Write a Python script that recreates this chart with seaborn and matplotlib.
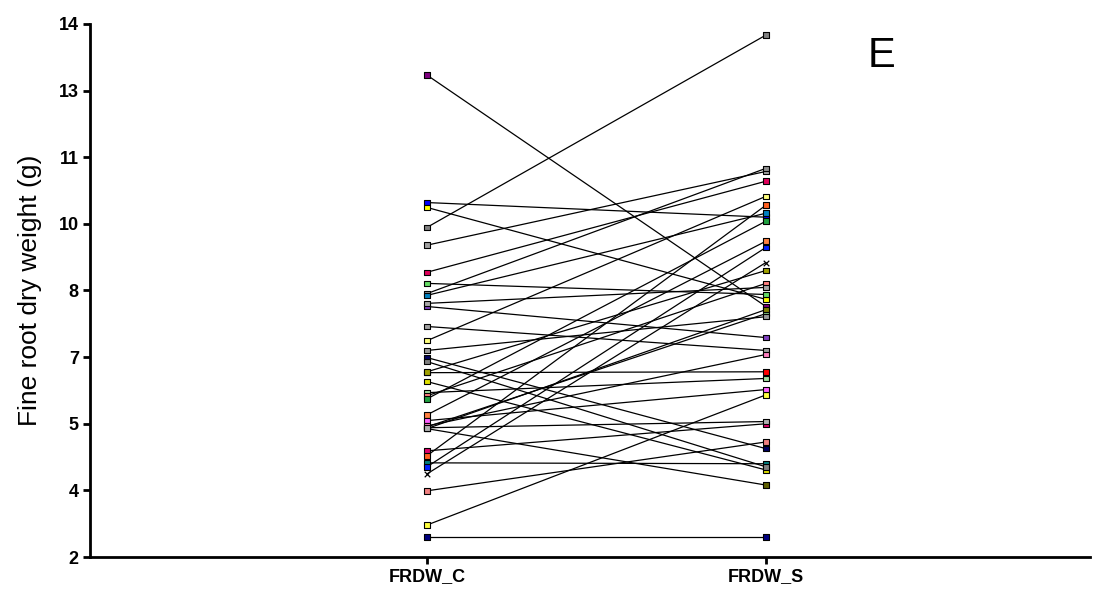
import numpy as np
import pandas as pd
import matplotlib
matplotlib.use("Agg")
import matplotlib.pyplot as plt
import seaborn as sns

# ---------------------------------------------
# Data: fine root dry weight, paired per plant
# ---------------------------------------------
conditions = ["FRDW_C", "FRDW_S"]

frdw_c = [12.85, 9.42, 9.98, 9.87, 9.02, 7.93, 8.41, 8.16, 7.89, 7.64,
          7.19, 6.15, 4.12, 3.49, 2.72, 2.45, 5.95, 4.39, 4.28, 4.03,
          5.20, 5.07, 5.70, 5.63, 5.56, 4.93, 4.89, 3.87, 6.87, 6.17,
          6.49, 6.40, 7.71, 6.65, 4.89, 4.95, 4.91]

frdw_s = [7.64, 13.75, 9.65, 7.80, 10.68, 10.75, 10.46, 7.91, 9.74, 6.94,
          6.65, 6.17, 4.10, 4.59, 5.65, 2.45, 3.96, 5.00, 9.92, 8.97,
          9.11, 5.77, 6.02, 8.16, 9.56, 7.48, 3.62, 8.63, 10.12, 8.45,
          4.44, 4.03, 8.07, 7.41, 7.57, 6.56, 5.05]

plant_colors = ["#800080", "#808080", "#0000ff", "#ffff00", "#a0a0a0",
                "#909090", "#e0005a", "#66dd66", "#0080c0", "#8040c0",
                "#a0a0a0", "#ff0000", "#008080", "#f08080", "#ffff40",
                "#000080", "#e0e000", "#e0006a", "#ff6020", "#0020ff",
                "#ff8040", "#ff60ff", "#a0e0a0", "#ff8080", "#20a040",
                "#80c080", "#606000", "#000000", "#ffff80", "#a0a000",
                "#000060", "#808080", "#a8a8a8", "#989898", "#808000",
                "#ff80c0", "#b0b0b0"]

cross_plant = 27   # this plant is drawn with an "x" marker

y_ticks = [2, 3.5, 5, 6.5, 8, 9.5, 11, 12.5, 14]
y_tick_labels = ["2", "4", "5", "7", "8", "10", "11", "13", "14"]

n = len(frdw_c)
df = pd.DataFrame({
    "plant": list(range(n)) * 2,
    "condition": [conditions[0]] * n + [conditions[1]] * n,
    "weight": frdw_c + frdw_s,
})
df["pos"] = df["condition"].map({c: i for i, c in enumerate(conditions)})

sns.set_style("ticks")
plt.rcParams["font.family"] = ["Liberation Sans", "DejaVu Sans"]
plt.rcParams["text.color"] = "black"
plt.rcParams["axes.labelcolor"] = "black"
plt.rcParams["xtick.color"] = "black"
plt.rcParams["ytick.color"] = "black"

fig = plt.figure(figsize=(10.96, 5.89), dpi=100)
ax = fig.add_axes([0.0821, 0.0543, 0.9124, 0.9050])

# connecting lines (one per plant)
sns.lineplot(data=df, x="pos", y="weight", units="plant", estimator=None,
             color="black", linewidth=0.9, ax=ax, legend=False, zorder=2)

# end markers
sq = df[df["plant"] != cross_plant]
sns.scatterplot(data=sq, x="pos", y="weight", hue="plant",
                palette=dict(enumerate(plant_colors)), marker="s",
                s=16, edgecolor="black", linewidth=0.8,
                ax=ax, legend=False, zorder=3)
cx = df[df["plant"] == cross_plant]
sns.scatterplot(data=cx, x="pos", y="weight", color="black", marker="x",
                s=16, linewidth=0.9, ax=ax, legend=False, zorder=3)

ax.set_xlim(-0.994, 1.956)
ax.set_ylim(2, 14)
ax.set_xticks([0, 1])
ax.set_xticklabels(conditions, fontsize=13, fontweight="bold")
ax.set_yticks(y_ticks)
ax.set_yticklabels(y_tick_labels, fontsize=13, fontweight="bold")
ax.set_xlabel("")
ax.set_ylabel("Fine root dry weight (g)", fontsize=19, labelpad=12)
ax.tick_params(axis="both", direction="out", length=5, width=2, pad=3)

sns.despine(ax=ax)
for side in ["left", "bottom"]:
    ax.spines[side].set_linewidth(2)
    ax.spines[side].set_color("black")

ax.text(1.34, 13.28, "E", fontsize=30, ha="center", va="center")

plt.savefig("out.png", dpi=100)
plt.close()
